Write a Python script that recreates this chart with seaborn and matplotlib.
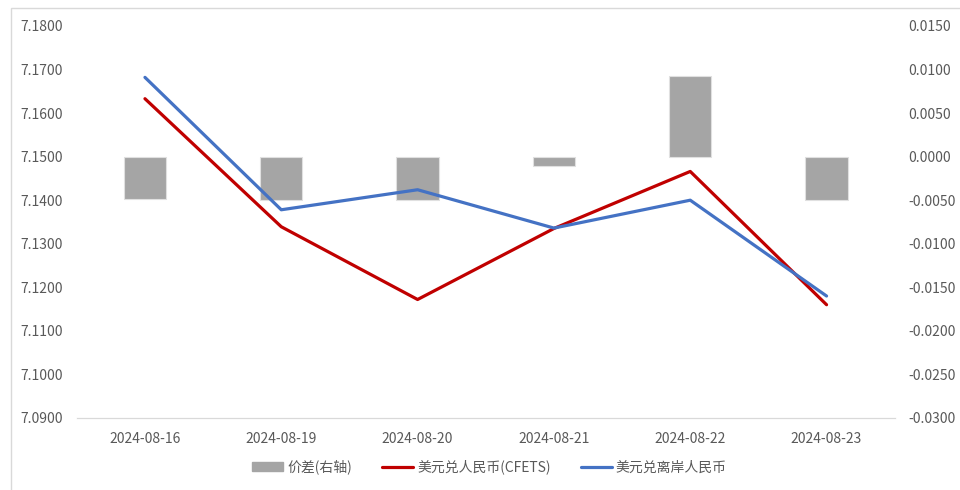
import numpy as np
import pandas as pd
import seaborn as sns
import matplotlib.pyplot as plt
from matplotlib.patches import Rectangle

dates = ['2024-08-16', '2024-08-19', '2024-08-20', '2024-08-21', '2024-08-22', '2024-08-23']
cfets = [7.1633, 7.1339, 7.1172, 7.1335, 7.1466, 7.1160]
offshore = [7.1682, 7.1378, 7.1424, 7.1336, 7.1400, 7.1180]
spread = [-0.0049, -0.0050, -0.0050, -0.0011, 0.0092, -0.0050]

sns.set_style('white')
plt.rcParams['font.family'] = ['Noto Sans CJK SC', 'DejaVu Sans']

grey_txt = '#595959'
fig = plt.figure(figsize=(9.6, 4.9), dpi=100)
ax = fig.add_axes([0.080, 0.147, 0.852, 0.800])
ax2 = ax.twinx()

# spread bars on the right-hand axis
sns.barplot(x=dates, y=spread, color='#A5A5A5', saturation=1, width=0.31,
            edgecolor='#E0E0E0', linewidth=0.8, ax=ax)
ax.set_ylim(-0.03, 0.015)
ax.set_yticks(np.arange(-0.03, 0.0151, 0.005))
ax.yaxis.set_major_formatter(plt.FuncFormatter(lambda v, p: f'{v:.4f}'))

# exchange rate lines on the left-hand axis
pos = range(len(dates))
sns.lineplot(x=pos, y=cfets, color='#C00000', linewidth=2.3, ax=ax2,
             label='美元兑人民币(CFETS)', legend=False)
sns.lineplot(x=pos, y=offshore, color='#4472C4', linewidth=2.3, ax=ax2,
             label='美元兑离岸人民币', legend=False)
ax2.set_ylim(7.09, 7.18)
ax2.set_yticks(np.arange(7.09, 7.1801, 0.01))
ax2.yaxis.set_major_formatter(plt.FuncFormatter(lambda v, p: f'{v:.4f}'))
ax2.set_xlim(-0.5, len(dates) - 0.5)

ax.yaxis.tick_right()
ax2.yaxis.tick_left()

for a in (ax, ax2):
    for s in ['top', 'left', 'right']:
        a.spines[s].set_visible(False)
    a.spines['bottom'].set_color('#D9D9D9')
    a.tick_params(axis='y', length=0, labelsize=10, labelcolor=grey_txt, pad=10)
    a.set_xlabel('')
    a.set_ylabel('')

ax.set_xticks(np.arange(len(dates)))
ax.set_xticklabels(dates)
ax.set_xticks(np.arange(-0.5, len(dates)), minor=True)
ax.tick_params(axis='x', which='major', length=0, labelsize=10, labelcolor=grey_txt, pad=10)
ax.tick_params(axis='x', which='minor', length=4, color='#D9D9D9', direction='out')
ax2.tick_params(axis='x', length=0, labelbottom=False)

# legend
h_bar = Rectangle((0, 0), 1, 1, color='#A5A5A5')
h_l, l_l = ax2.get_legend_handles_labels()
fig.legend([h_bar] + h_l, ['价差(右轴)'] + l_l, loc='center', bbox_to_anchor=(0.51, 0.047),
           ncol=3, frameon=False, fontsize=10, labelcolor=grey_txt,
           handlelength=2.2, handletextpad=0.3, columnspacing=2.2)

# outer chart frame
fig.patches.append(Rectangle((0.0115, -0.01), 1.0, 0.994, transform=fig.transFigure,
                             fill=False, edgecolor='#D9D9D9', linewidth=1))

fig.savefig('out.png', dpi=100)
